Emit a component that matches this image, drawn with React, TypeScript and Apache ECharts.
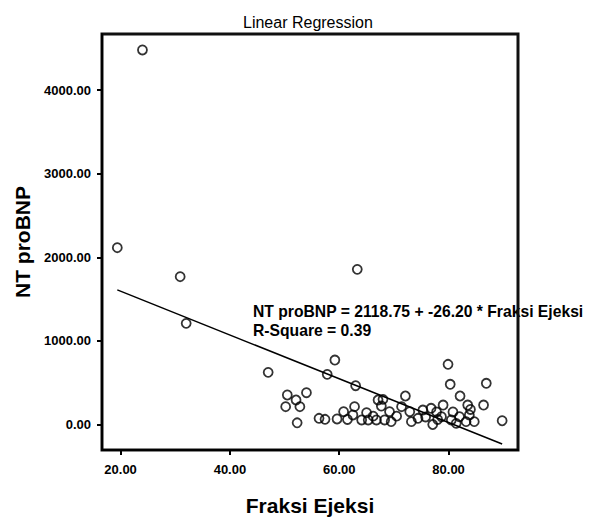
import React, { useEffect, useRef } from "react";
import * as echarts from "echarts";

const fraksiEjeksi = [
  24.0, 19.4, 30.9, 32.0, 47.0, 50.5, 50.2, 52.1, 52.3, 52.8,
  54.0, 56.3, 57.4, 57.8, 59.2, 59.6, 60.8, 62.8, 62.5, 63.0,
  63.3, 65.0, 64.1, 65.3, 66.8, 67.1, 68.0, 67.7, 69.2, 69.5,
  68.3, 66.2, 71.4, 72.1, 72.9, 73.2, 74.4, 75.3, 76.8, 77.1,
  79.0, 78.7, 79.9, 80.3, 80.5, 81.4, 82.0, 82.1, 83.5, 83.8,
  83.2, 84.7, 86.4, 86.9, 89.8, 61.5, 70.5, 75.8, 77.8, 78.0,
  80.8, 84.0,
];
const ntProBNP = [
  4480, 2115, 1768, 1210, 624, 353, 213, 293, 20, 213,
  380, 74, 62, 600, 771, 66, 153, 213, 114, 464,
  1856, 141, 54, 54, 54, 293, 301, 221, 153, 34,
  54, 100, 213, 341, 153, 34, 74, 173, 194, 0,
  233, 93, 720, 481, 54, 14, 93, 341, 233, 114,
  34, 34, 233, 493, 45, 60, 100, 90, 150, 60,
  150, 180,
];

const intercept = 2118.75;
const slope = -26.2;
const rSquare = 0.39;

const yTicks = [0, 1000, 2000, 3000, 4000];
const xTicks = [20, 40, 60, 80];

const X_MIN = 16.6;
const X_MAX = 92.7;
const Y_MIN = -305;
const Y_MAX = 4671;

const FONT = "'Liberation Sans', Arial, sans-serif";

export default function App() {
  const ref = useRef<HTMLDivElement>(null);
  useEffect(() => {
    if (!ref.current) return;
    const chart = echarts.init(ref.current, undefined, { renderer: "svg" });
    const points = fraksiEjeksi.map((x, i) => [x, ntProBNP[i]]);
    const xMin = Math.min(...fraksiEjeksi);
    const xMax = Math.max(...fraksiEjeksi);
    const fit = [
      [xMin, intercept + slope * xMin],
      [xMax, intercept + slope * xMax],
    ];
    chart.setOption({
      animation: false,
      backgroundColor: "#fff",
      title: {
        text: "Linear Regression",
        left: 238,
        top: 9,
        textStyle: { fontFamily: FONT, fontSize: 16, fontWeight: "normal", color: "#000" },
      },
      grid: {
        left: 102,
        top: 34,
        right: 78,
        bottom: 67,
        outerBoundsMode: "none",
        show: true,
        borderColor: "#101010",
        borderWidth: 3,
        backgroundColor: "rgba(0,0,0,0)",
      },
      xAxis: {
        type: "value",
        min: X_MIN,
        max: X_MAX,
        name: "Fraksi Ejeksi",
        nameLocation: "middle",
        nameGap: 45,
        nameTextStyle: { fontFamily: FONT, fontSize: 21, fontWeight: "bold", color: "#000" },
        axisLine: { show: true, onZero: false, lineStyle: { color: "#000", width: 2 } },
        axisTick: { show: true, length: 5, lineStyle: { color: "#000", width: 2 }, customValues: xTicks },
        axisLabel: {
          customValues: xTicks,
          formatter: (v: number) => v.toFixed(2),
          fontFamily: FONT,
          fontSize: 13,
          fontWeight: "bold",
          color: "#000",
          margin: 13,
        },
        splitLine: { show: false },
      },
      yAxis: {
        type: "value",
        min: Y_MIN,
        max: Y_MAX,
        name: "NT proBNP",
        nameLocation: "middle",
        nameGap: 64,
        nameTextStyle: { fontFamily: FONT, fontSize: 21, fontWeight: "bold", color: "#000" },
        axisLine: { show: true, onZero: false, lineStyle: { color: "#000", width: 2 } },
        axisTick: { show: true, length: 5, lineStyle: { color: "#000", width: 2 }, customValues: yTicks },
        axisLabel: {
          customValues: yTicks,
          formatter: (v: number) => v.toFixed(2),
          fontFamily: FONT,
          fontSize: 13,
          fontWeight: "bold",
          color: "#000",
          margin: 11,
        },
        splitLine: { show: false },
      },
      graphic: [
        {
          type: "text",
          left: 253,
          top: 302,
          z: -1,
          style: {
            text:
              "NT proBNP = " + intercept.toFixed(2) + " + " + slope.toFixed(2) +
              " * Fraksi Ejeksi\nR-Square = " + rSquare.toFixed(2),
            fontFamily: FONT,
            fontSize: 15.7,
            fontWeight: "bold",
            lineHeight: 19,
            fill: "#000",
          },
        },
      ],
      series: [
        {
          type: "line",
          data: fit,
          symbol: "none",
          lineStyle: { color: "#000", width: 1.5 },
          z: 1,
        },
        {
          type: "scatter",
          data: points,
          symbol: "circle",
          symbolSize: 9,
          itemStyle: { color: "rgba(0,0,0,0)", borderColor: "#000", borderWidth: 1.8 },
          z: 2,
        },
      ],
    });
    return () => chart.dispose();
  }, []);
  return <div ref={ref} style={{ width: 596, height: 517, position: "absolute", left: 0, top: 0 }} />;
}
